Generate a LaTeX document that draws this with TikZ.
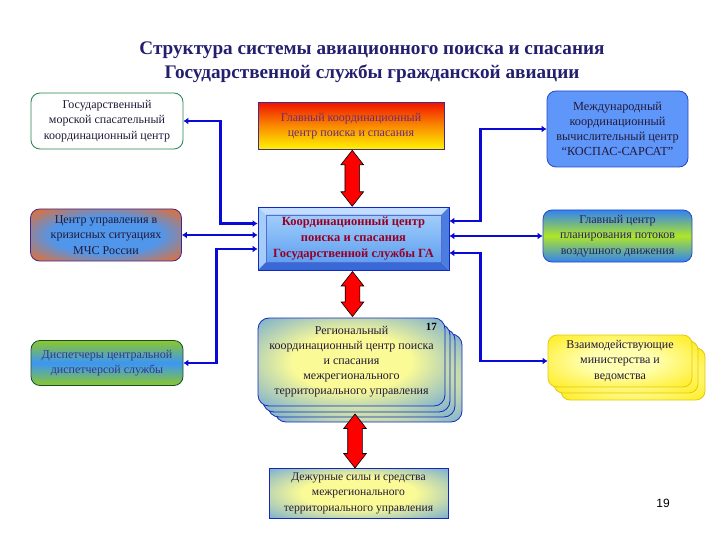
\documentclass[tikz,border=0pt]{standalone}
\usepackage{fontspec}
\setmainfont{Liberation Serif}
\newfontfamily\pagefont{Liberation Sans}
\usetikzlibrary{arrows.meta,calc,shapes.arrows}

\definecolor{titleblue}{RGB}{35,30,110}
\definecolor{linkblue}{RGB}{10,10,215}
\definecolor{mscgreen}{RGB}{40,130,80}
\definecolor{mscfill}{RGB}{215,238,222}
\definecolor{mchsorange}{RGB}{226,112,52}
\definecolor{mchsblue}{RGB}{80,150,235}
\definecolor{boxpurple}{RGB}{70,40,140}
\definecolor{dispgreen}{RGB}{140,200,40}
\definecolor{dispblue}{RGB}{60,150,245}
\definecolor{disptext}{RGB}{50,50,160}
\definecolor{gkcred}{RGB}{240,20,0}
\definecolor{gkcorange}{RGB}{250,140,0}
\definecolor{gkcyellow}{RGB}{255,245,0}
\definecolor{gkctext}{RGB}{110,40,120}
\definecolor{kcedge}{RGB}{20,40,190}
\definecolor{kctext}{RGB}{150,0,40}
\definecolor{bevellight}{RGB}{195,222,252}
\definecolor{bevelleft}{RGB}{165,205,250}
\definecolor{beveldark}{RGB}{55,105,215}
\definecolor{bevelright}{RGB}{75,125,225}
\definecolor{kcinnertop}{RGB}{160,205,250}
\definecolor{kcinnerbot}{RGB}{95,160,240}
\definecolor{glowyellow}{RGB}{250,250,150}
\definecolor{glowblue}{RGB}{55,135,240}
\definecolor{kospasfill}{RGB}{95,150,250}
\definecolor{kospasedge}{RGB}{40,70,200}
\definecolor{gcpgreen}{RGB}{175,230,40}
\definecolor{gcpblue}{RGB}{50,130,240}
\definecolor{minyellow}{RGB}{255,232,0}
\definecolor{minlight}{RGB}{255,255,175}
\definecolor{minedge}{RGB}{228,200,20}
\definecolor{darktext}{RGB}{35,25,55}

\pgfdeclareradialshading{mchsglow}{\pgfpoint{0bp}{0bp}}{color(0bp)=(mchsblue); color(18bp)=(mchsblue); color(34bp)=(mchsorange); color(50bp)=(mchsorange)}
\pgfdeclareradialshading{regglow}{\pgfpoint{0bp}{0bp}}{color(0bp)=(glowyellow); color(16bp)=(glowyellow); color(46bp)=(glowblue); color(50bp)=(glowblue)}
\pgfdeclareradialshading{minglow}{\pgfpoint{0bp}{0bp}}{color(0bp)=(minlight); color(12bp)=(minlight); color(40bp)=(minyellow); color(50bp)=(minyellow)}
\pgfdeclareradialshading{mscglow}{\pgfpoint{0bp}{0bp}}{color(0bp)=(white); color(30bp)=(white); color(50bp)=(mscfill)}

\begin{document}
\begin{tikzpicture}[x=1pt, y=-1pt]
  \tikzset{
    box/.style={rectangle, rounded corners=9pt, line width=0.8pt, align=center,
      inner sep=2pt, text=darktext, font=\fontsize{12}{15.5}\selectfont},
    mscbox/.style={box, draw=mscgreen, shading=mscglow,
      minimum width=152pt, minimum height=56pt},
    mchsbox/.style={box, draw=boxpurple, shading=mchsglow,
      minimum width=151pt, minimum height=52pt},
    dispbox/.style={box, draw=mscgreen!60!black, top color=dispgreen, bottom color=dispgreen,
      middle color=dispblue, text=disptext, minimum width=152pt, minimum height=45pt},
    gkcbox/.style={box, rounded corners=0pt, draw=boxpurple, top color=gkcred,
      bottom color=gkcyellow, middle color=gkcorange, text=gkctext,
      minimum width=186pt, minimum height=47pt},
    kcbox/.style={rectangle, draw=kcedge, line width=0.8pt, align=center,
      minimum width=191pt, minimum height=63pt, text=kctext,
      font=\fontsize{12.5}{16}\selectfont\bfseries,
      path picture={
        \path (path picture bounding box.north west) coordinate (bnw)
              (path picture bounding box.south east) coordinate (bse)
              ([xshift=8pt,yshift=-8pt]bnw) coordinate (inw)
              ([xshift=-8pt,yshift=8pt]bse) coordinate (ise);
        \fill[bevellight] (bnw) -- (bnw -| bse) -- (inw -| ise) -- (inw) -- cycle;
        \fill[bevelleft] (bnw) -- (inw) -- (inw |- ise) -- (bnw |- bse) -- cycle;
        \fill[beveldark] (bnw |- bse) -- (inw |- ise) -- (ise) -- (bse) -- cycle;
        \fill[bevelright] (bse) -- (ise) -- (inw -| ise) -- (bnw -| bse) -- cycle;
        \shade[top color=kcinnertop, bottom color=kcinnerbot] (inw) rectangle (ise);
        \draw[kcedge!70, line width=0.5pt] (inw) rectangle (ise);
      }},
    regbox/.style={box, rounded corners=11pt, draw=kcedge, shading=regglow,
      minimum width=187pt, minimum height=88pt, font=\fontsize{12}{15}\selectfont},
    dutybox/.style={box, rounded corners=0pt, draw=kcedge, shading=regglow,
      minimum width=179pt, minimum height=50pt, font=\fontsize{11.6}{15.5}\selectfont},
    kospasbox/.style={box, draw=kospasedge, fill=kospasfill,
      minimum width=141pt, minimum height=76pt, font=\fontsize{12.3}{15}\selectfont},
    gcpbox/.style={box, draw=kospasedge, top color=gcpblue, bottom color=gcpblue,
      middle color=gcpgreen, text=titleblue, minimum width=149pt, minimum height=52pt},
    minbox/.style={box, draw=minedge, shading=minglow,
      minimum width=144pt, minimum height=52pt},
    link/.style={{Latex[length=5pt,width=7pt]}-{Latex[length=5pt,width=7pt]},
      draw=linkblue, line width=2.6pt},
    redarrow/.style={double arrow, draw=black, fill=red, line width=0.6pt,
      inner xsep=0pt, inner ysep=7pt, minimum width=22pt,
      double arrow head extend=4pt, double arrow tip angle=76, rotate=90}
  }
  \useasboundingbox (0,0) rectangle (720,540);

  \node[font=\fontsize{19.2}{24}\selectfont\bfseries, text=titleblue, align=center] (title)
    at (372,62) {Структура системы авиационного поиска и спасания\\
                 Государственной службы гражданской авиации};

  % left column
  \node[mscbox] (msc) at (107,121) {Государственный\\морской спасательный\\координационный центр};
  \node[mchsbox] (mchs) at (106,235) {Центр управления в\\кризисных ситуациях\\МЧС России};
  \node[dispbox] (disp) at (107,363) {Диспетчеры центральной\\диспетчерсой службы};

  % middle column
  \node[gkcbox] (gkc) at (351,126) {Главный координационный\\центр поиска и спасания};
  \node[kcbox] (kc) at (353.5,238.5) {Координационный центр\\поиска и спасания\\Государственной службы ГА};
  \foreach \dx/\dy/\k in {17/16/3, 10/11/2, 5/6/1}
    \node[regbox] (reg\k) at (351.5+\dx,362+\dy) {};
  \node[regbox] (reg) at (351.5,362) {Региональный\\координационный центр поиска\\и спасания\\межрегионального\\территориального управления};
  \node[font=\fontsize{11}{11}\selectfont\bfseries, text=black] (count)
    at ([xshift=-14pt,yshift=-9pt]reg.north east) {17};
  \node[dutybox] (duty) at (358.5,493) {Дежурные силы и средства\\межрегионального\\территориального управления};

  % right column
  \node[kospasbox] (kospas) at (617.5,129) {Международный\\координационный\\вычислительный центр\\“КОСПАС-САРСАТ”};
  \node[gcpbox] (gcp) at (617.5,236) {Главный центр\\планирования потоков\\воздушного движения};
  \foreach \dx/\dy/\k in {13/13/2, 6/6/1}
    \node[minbox] (min\k) at (620+\dx,361+\dy) {};
  \node[minbox] (min) at (620,361) {Взаимодействующие\\министерства и\\ведомства};

  % red links
  \node[redarrow, minimum height=56pt] (up1) at ($(gkc.south)!.5!(kc.north)$) {};
  \node[redarrow, minimum height=45pt] (up2) at ($(kc.south)!.5!(reg.north)$) {};
  \node[redarrow, minimum height=54pt] (up3) at ([yshift=-4pt]$(reg.south)!.5!(duty.north)$) {};

  % blue links
  \draw[link] (msc.east) -| ([xshift=-37pt,yshift=15pt]kc.west) -- ([yshift=15pt]kc.west);
  \draw[link] (mchs.east) -- (kc.west |- mchs.east);
  \draw[link] (disp.east) -| ([xshift=-41pt,yshift=-10.5pt]kc.west) -- ([yshift=-10.5pt]kc.west);
  \draw[link] (kospas.west) -| ([xshift=31pt,yshift=17.5pt]kc.east) -- ([yshift=17.5pt]kc.east);
  \draw[link] (gcp.west) -- (kc.east |- gcp.west);
  \draw[link] (min.west) -| ([xshift=31pt,yshift=-14.5pt]kc.east) -- ([yshift=-14.5pt]kc.east);

  \node[font=\pagefont\fontsize{12}{12}\selectfont] (page) at (663,503) {19};
\end{tikzpicture}
\end{document}
